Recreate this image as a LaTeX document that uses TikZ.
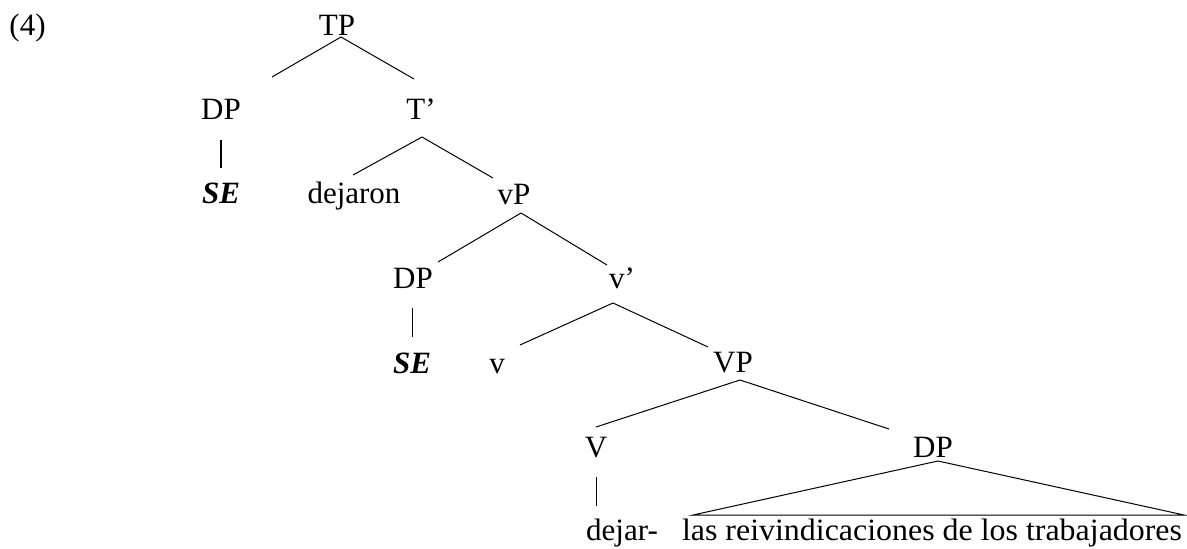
\documentclass[tikz,border=0pt]{standalone}
\usepackage{fontspec}
\usepackage{graphicx}
\setmainfont{Liberation Serif}
\begin{document}
\begin{tikzpicture}[x=1pt,y=-1pt,
  lbl/.style={font=\fontsize{31}{37}\selectfont, inner sep=0pt, anchor=base},
  edge/.style={line width=1pt},
  thickbar/.style={line width=2pt}]
\useasboundingbox (0,0) rectangle (1187,549);
% labels
\node[lbl] (ex) at (27.5,35) {(4)};
\node[lbl] (TP) at (337,35) {TP};
\node[lbl] (DPa) at (221,119) {DP};
\node[lbl] (Tb) at (421,119) {T’};
\node[lbl] (SEa) at (221,203) {\textbf{\textit{SE}}};
\node[lbl] (dejaron) at (354,203) {dejaron};
\node[lbl] (vP) at (514,204) {vP};
\node[lbl] (DPb) at (413,288) {DP};
\node[lbl] (vb) at (622,288) {v’};
\node[lbl] (SEb) at (412,373) {\textbf{\textit{SE}}};
\node[lbl] (v) at (497,373) {v};
\node[lbl] (VP) at (733,372) {VP};
\node[lbl] (V) at (596,457) {V};
\node[lbl] (DPc) at (933,457) {DP};
\node[lbl] (dejar) at (622,540) {dejar-};
\node[lbl] (las) at (932,540) {\resizebox{500pt}{\height}{las reivindicaciones de los trabajadores}};
% branches
\draw[edge] ([shift={(4,2)}]TP.base) -- ([shift={(51,-42)}]DPa.base);
\draw[edge] ([shift={(4,2)}]TP.base) -- ([shift={(-7,-40)}]Tb.base);
\draw[thickbar] ([shift={(0,21)}]DPa.base) -- ([shift={(0,-35)}]SEa.base);
\draw[edge] ([shift={(1,18)}]Tb.base) -- ([shift={(-1,-28)}]dejaron.base);
\draw[edge] ([shift={(1,18)}]Tb.base) -- ([shift={(-21,-26)}]vP.base);
\draw[edge] ([shift={(7,9)}]vP.base) -- ([shift={(25,-26)}]DPb.base);
\draw[edge] ([shift={(7,9)}]vP.base) -- ([shift={(-15,-23)}]vb.base);
\draw[edge] ([shift={(-1,20)}]DPb.base) -- ([shift={(0,-36)}]SEb.base);
\draw[edge] ([shift={(-9,15)}]vb.base) -- ([shift={(23,-28)}]v.base);
\draw[edge] ([shift={(-9,15)}]vb.base) -- ([shift={(-25,-25)}]VP.base);
\draw[edge] ([shift={(7,8)}]VP.base) -- ([shift={(0,-30)}]V.base);
\draw[edge] ([shift={(7,8)}]VP.base) -- ([shift={(-44,-28)}]DPc.base);
\draw[edge] ([shift={(0,20)}]V.base) -- ([shift={(-26,-34)}]dejar.base);
\draw[edge] ([shift={(5,4)}]DPc.base) -- ([shift={(-239,-25)}]las.base) -- ([shift={(252,-25)}]las.base) -- cycle;
\end{tikzpicture}
\end{document}
